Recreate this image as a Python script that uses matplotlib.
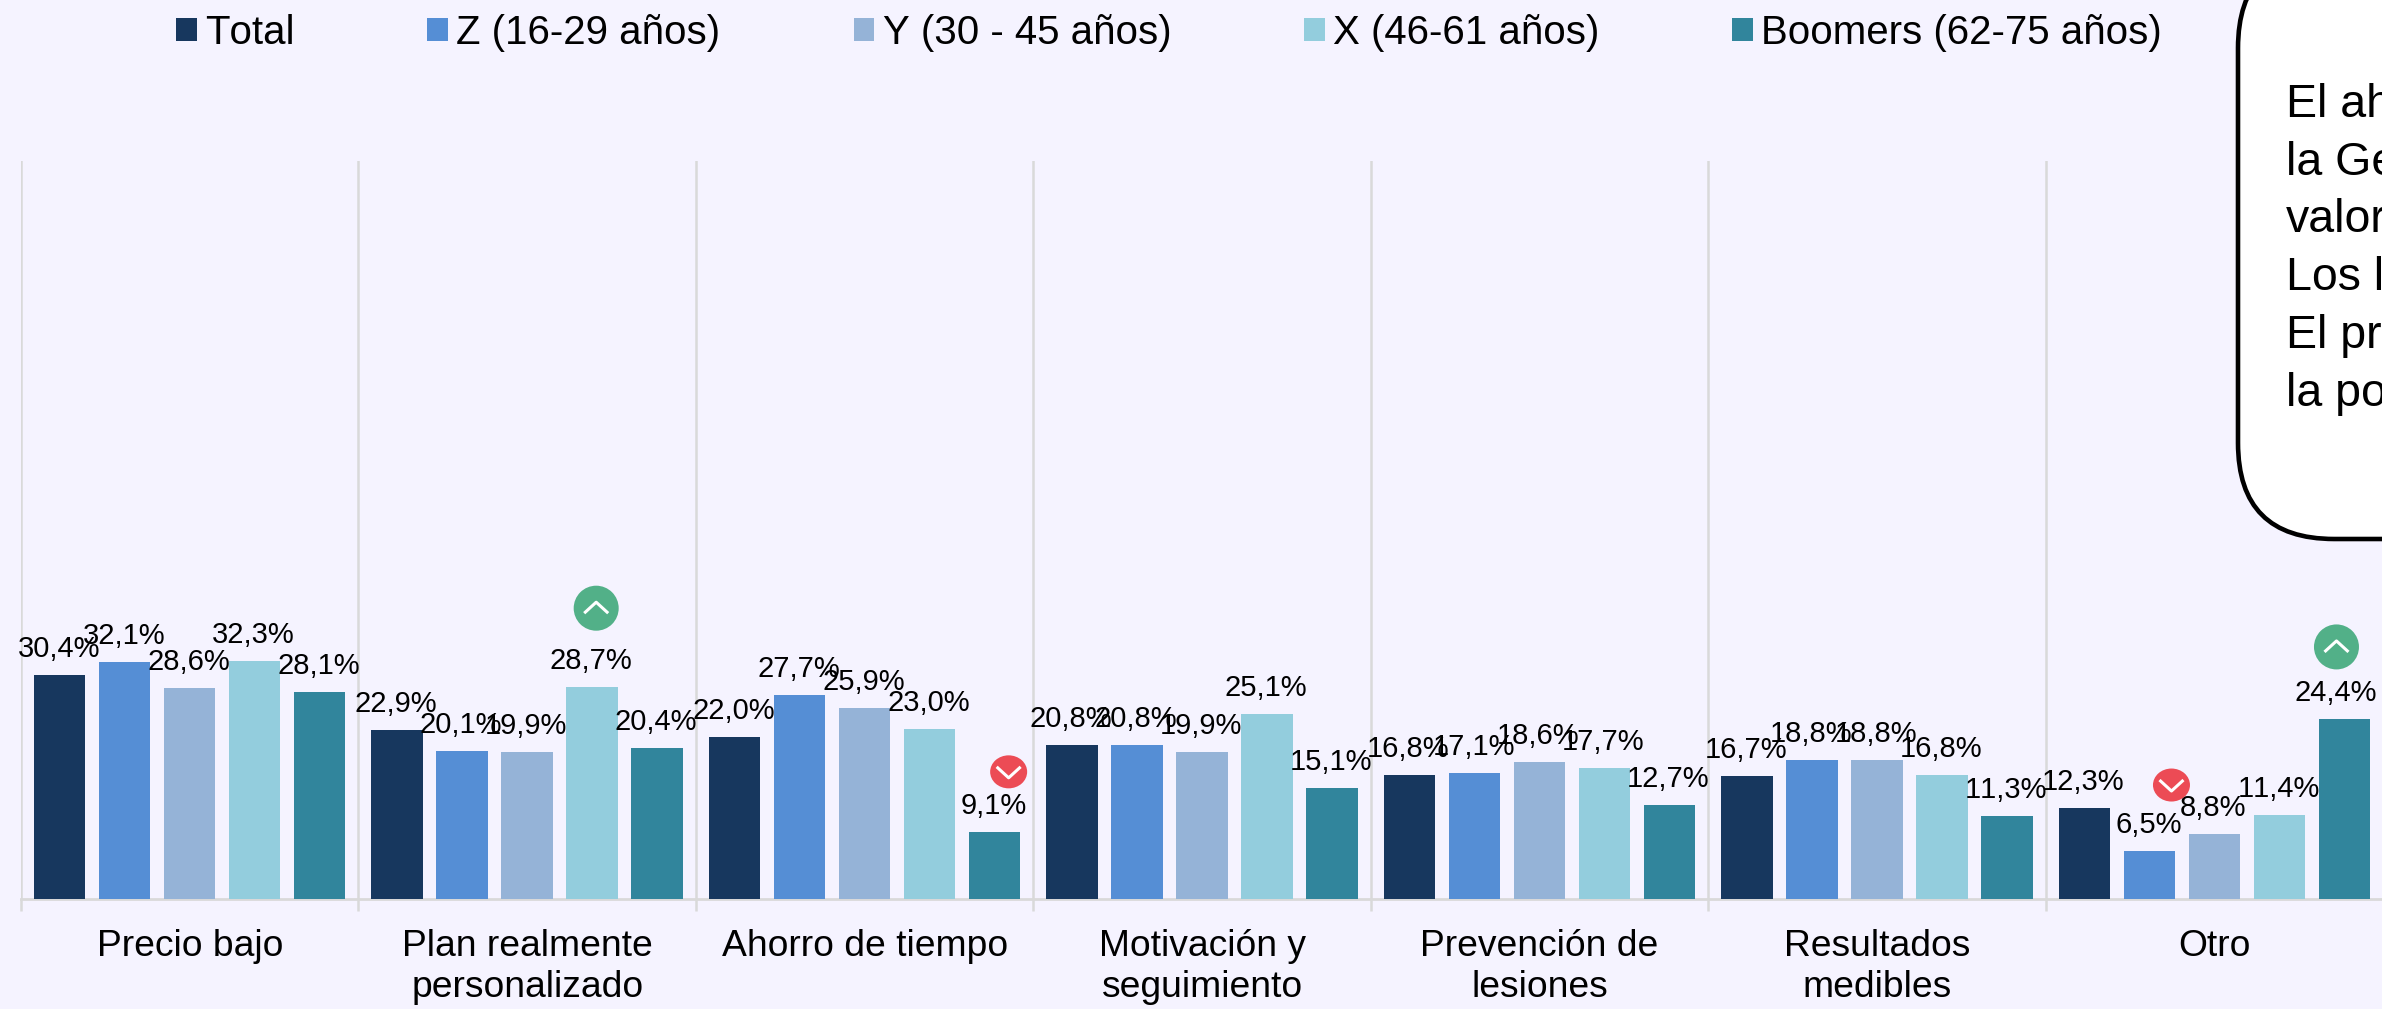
import matplotlib
matplotlib.use('Agg')
import matplotlib.pyplot as plt
import numpy as np
from matplotlib.patches import Ellipse, FancyBboxPatch
from matplotlib.transforms import Affine2D

categories = ['Precio bajo', 'Plan realmente\npersonalizado', 'Ahorro de tiempo',
              'Motivación y\nseguimiento', 'Prevención de\nlesiones',
              'Resultados\nmedibles', 'Otro']
series_names = ['Total', 'Z (16-29 años)', 'Y (30 - 45 años)',
                'X (46-61 años)', 'Boomers (62-75 años)']
total = [30.4, 22.9, 22.0, 20.8, 16.8, 16.7, 12.3]
gen_z = [32.1, 20.1, 27.7, 20.8, 17.1, 18.8, 6.5]
gen_y = [28.6, 19.9, 25.9, 19.9, 18.6, 18.8, 8.8]
gen_x = [32.3, 28.7, 23.0, 25.1, 17.7, 16.8, 11.4]
boomers = [28.1, 20.4, 9.1, 15.1, 12.7, 11.3, 24.4]
note_lines = ['El ah', 'la Ge', 'valor', 'Los l', 'El pr', 'la po']

colors = ['#17375E', '#558ED5', '#95B3D7', '#93CDDD', '#31859C']
BG = '#F5F3FF'
W, H = 2382, 1009
plt.rcParams['font.family'] = ['Liberation Sans', 'DejaVu Sans']
plt.rcParams['text.kerning_factor'] = 6

fig = plt.figure(figsize=(W / 100, H / 100), dpi=100, facecolor=BG)
# axes box
ax = fig.add_axes([21 / W, 1 - 899 / H, 2362.2 / W, (899 - 161) / H])
ax.set_facecolor('none')
ax.set_xlim(-0.5, 6.5)
ax.set_ylim(0, 100)

PX_X = 1 / 337.45  # one pixel in x data units
PX_Y = 100 / 738   # one pixel in y data units
pitch = 65 * PX_X
width = 51.5 * PX_X

all_series = [total, gen_z, gen_y, gen_x, boomers]
x = np.arange(len(categories))
for i, vals in enumerate(all_series):
    pos = x + (i - 2) * pitch
    ax.bar(pos, vals, width, color=colors[i], label=series_names[i], zorder=3)
    for j, v in enumerate(vals):
        dx = -9 if (i == 4 and j == 6) else -1
        ax.annotate(f'{v:.1f}%'.replace('.', ','), (pos[j], v),
                    xytext=(dx * 0.72, 13), textcoords='offset points',
                    ha='center', va='baseline', fontsize=21, color='black',
                    zorder=5)

# up / down flags: group, series, direction, icon offset in pixels
flags = [(1, 3, 'up', 4, 79), (2, 4, 'down', 14, 60),
         (6, 1, 'down', 22, 66), (6, 4, 'up', -8, 72)]
for j, i, kind, ox, oy in flags:
    cx = j + (i - 2) * pitch + ox * PX_X
    cy = all_series[i][j] + oy * PX_Y
    if kind == 'up':
        ew, eh, col, s = 45, 45, '#52B088', 1
    else:
        ew, eh, col, s = 37, 33, '#EC4B55', -1
    ax.add_patch(Ellipse((cx, cy), ew * PX_X, eh * PX_Y, color=col, zorder=6, lw=0))
    ax.plot([cx - 12 * PX_X, cx, cx + 12 * PX_X],
            [cy - s * 5 * PX_Y, cy + s * 6 * PX_Y, cy - s * 5 * PX_Y],
            color='white', lw=2.2, zorder=7, solid_capstyle='butt')

ax.set_xticks(x)
ax.set_xticklabels(categories, fontsize=26.8, linespacing=1.22)
ax.tick_params(axis='x', which='major', length=0, pad=21.5, colors='black')
ax.set_xticks(np.arange(-0.5, 6.5, 1), minor=True)
ax.tick_params(axis='x', which='minor', length=8.6, width=1.8, color='#D9D9D9')
ax.grid(axis='x', which='minor', color='#D9D9D9', lw=1.8, zorder=1)
ax.set_yticks([])
for side in ['top', 'right', 'left']:
    ax.spines[side].set_visible(False)
ax.spines['bottom'].set_color('#D9D9D9')
ax.spines['bottom'].set_linewidth(2)

fig.legend(loc='upper left', bbox_to_anchor=(176 / W, 1 - 14 / H), ncol=5,
           frameon=False, fontsize=29, handlelength=0.52, handleheight=0.52,
           handletextpad=0.2, columnspacing=3.3, borderpad=0, borderaxespad=0)

# callout box, runs off the top and right of the canvas
r = 96
left, top, bottom = 2238, -48, 539
box = FancyBboxPatch((left + r, top + r), 600, bottom - top - 2 * r,
                     boxstyle=f'round,pad={r},rounding_size={r}',
                     transform=Affine2D().scale(1, -1).translate(0, H),
                     fc='white', ec='black', lw=3.3, zorder=8)
fig.add_artist(box)
for k, line in enumerate(note_lines):
    fig.text(2286 / W, 1 - (117 + k * 57.7) / H, line, fontsize=33.5, color='black',
             ha='left', va='baseline', zorder=9)

fig.savefig('out.png', dpi=100, facecolor=fig.get_facecolor())
